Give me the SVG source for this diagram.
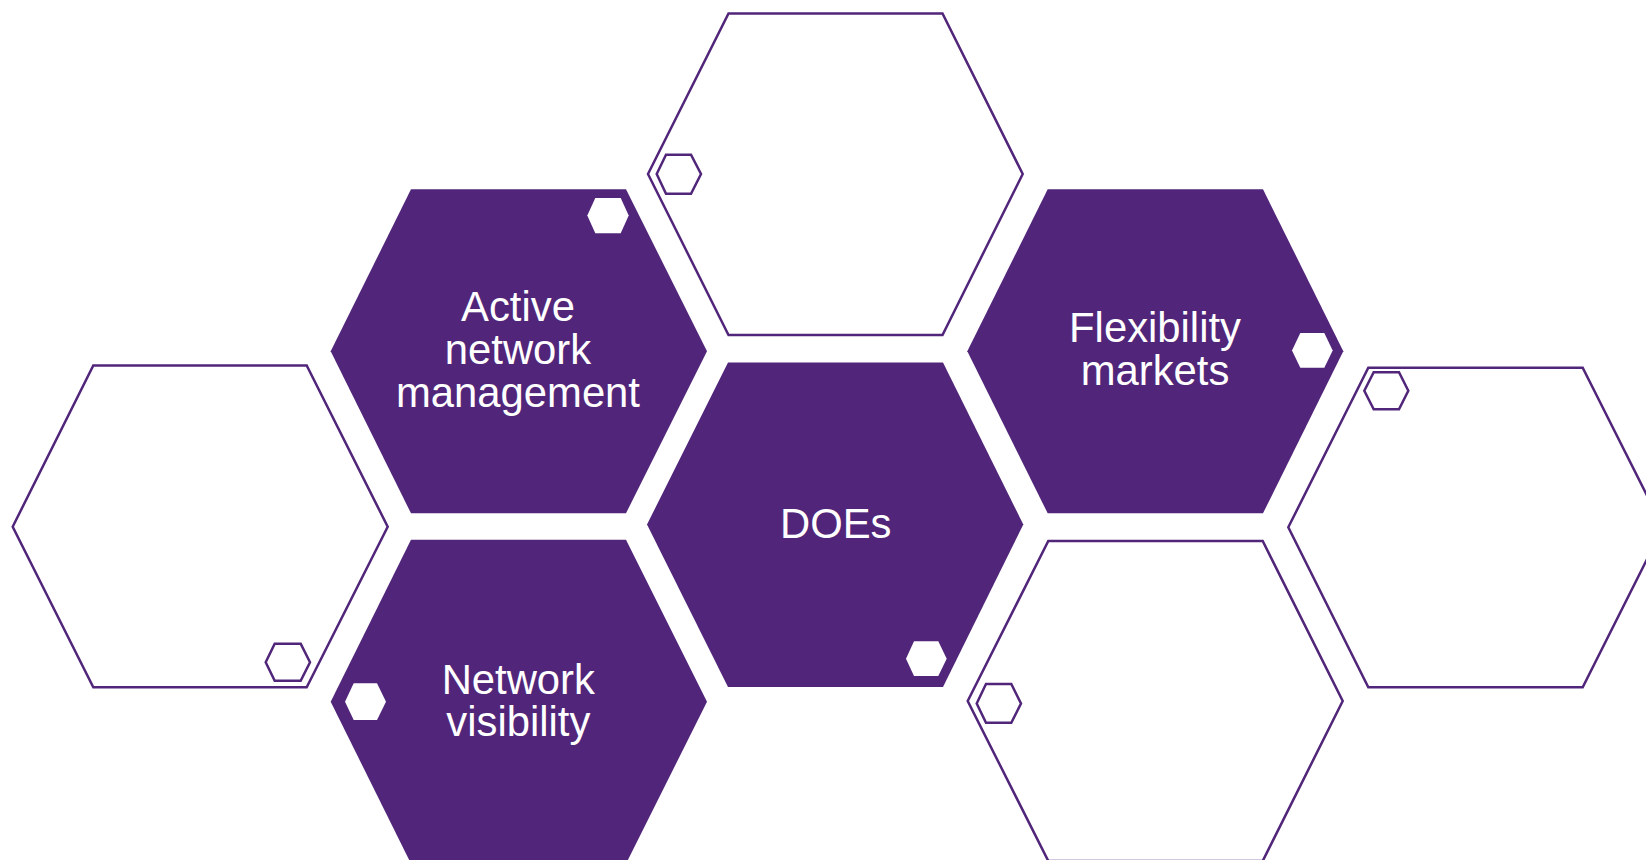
<svg xmlns="http://www.w3.org/2000/svg" width="1646" height="860" viewBox="0 0 1646 860">
<style>
.solid{fill:#51267a}
.outline{fill:#fff;stroke:#51267a;stroke-width:2.5}
.badge-w{fill:#fff}
.badge-o{fill:#fff;stroke:#51267a;stroke-width:2.5}
text{font-family:"Liberation Sans",Arial,sans-serif;font-size:41.8px;fill:#fff;text-anchor:middle}
</style>
<rect width="1646" height="860" fill="#fff"/>
<g id="connectors"></g>
<g id="hex-top"><polygon class="outline" points="648,174 728.5,13.5 942.5,13.5 1022.7,174 942.5,335 728.5,335"/><polygon class="badge-o" points="656.7,174 666,154.7 691,154.7 701,174 691,193.7 666,193.7"/></g>
<g id="hex-left"><polygon class="outline" points="12.7,526.7 93.3,365.5 306.7,365.5 387.7,526.7 306.7,687.3 93.3,687.3"/><polygon class="badge-o" points="265.7,662.3 274.7,643.7 300.7,643.7 310,662.3 300.7,680.7 274.7,680.7"/></g>
<g id="hex-right"><polygon class="outline" points="1288.3,527.3 1368.3,367.7 1582.7,367.7 1663,527.3 1582.7,687.3 1368.3,687.3"/><polygon class="badge-o" points="1364.3,390.8 1373.7,372.3 1399,372.3 1408.3,390.8 1399,409.3 1373.7,409.3"/></g>
<g id="hex-bottom"><polygon class="outline" points="967.7,701 1048.3,541 1262.7,541 1342.7,701 1262.7,861 1048.3,861"/><polygon class="badge-o" points="976.7,703.5 986,684 1011.3,684 1021,703.5 1011.3,722.7 986,722.7"/></g>
<g id="hex-active"><polygon class="solid" points="330.7,351.3 411,189.3 626,189.3 707,351.3 626,513.3 411,513.3"/><polygon class="badge-w" points="587.3,215.5 595.3,198 620.7,198 628.7,215.5 620.7,233.3 595.3,233.3"/><text y="321.3"><tspan x="518">Active</tspan><tspan x="518" dy="42.5">network</tspan><tspan x="518" dy="42.7">management</tspan></text></g>
<g id="hex-flex"><polygon class="solid" points="967.3,351.3 1047.7,189.3 1263,189.3 1343.3,351.3 1263,513.3 1047.7,513.3"/><polygon class="badge-w" points="1292,350.5 1300.3,333 1324.3,333 1332.7,350.5 1324.3,367.7 1300.3,367.7"/><text y="342.3"><tspan x="1155">Flexibility</tspan><tspan x="1155" dy="42.5">markets</tspan></text></g>
<g id="hex-does"><polygon class="solid" points="647,524.5 728,362.5 943,362.5 1023.3,524.5 943,687 728,687"/><polygon class="badge-w" points="906,658.7 914,641.3 938.3,641.3 946.7,658.7 938.3,676 914,676"/><text x="835.7" y="538.3">DOEs</text></g>
<g id="hex-network"><polygon class="solid" points="330.7,701.7 411,539.7 626,539.7 707,701.7 626,863.7 411,863.7"/><polygon class="badge-w" points="345,701.7 353.7,683.3 377,683.3 386,701.7 377,720 353.7,720"/><text y="693.8"><tspan x="518.3">Network</tspan><tspan x="518.3" dy="42.5">visibility</tspan></text></g>
</svg>
